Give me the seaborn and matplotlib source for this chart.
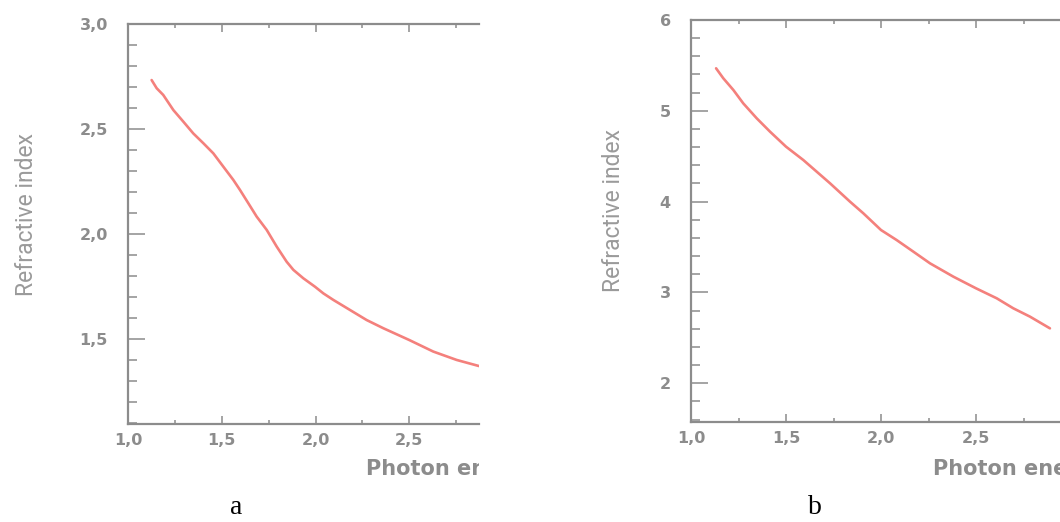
import matplotlib
matplotlib.use("Agg")
from matplotlib import pyplot as plt
from matplotlib.ticker import MultipleLocator, FuncFormatter
from matplotlib.transforms import Bbox, TransformedBbox
import pandas as pd
import seaborn as sns

sns.set_style("ticks")

# panel a: refractive index vs photon energy (eV)
energy_a = [1.126, 1.153, 1.188, 1.242, 1.295, 1.348, 1.402, 1.455, 1.508, 1.562,
            1.597, 1.642, 1.686, 1.740, 1.793, 1.846, 1.882, 1.935, 1.997, 2.042,
            2.095, 2.184, 2.273, 2.362, 2.500, 2.628, 2.753, 2.872]
index_a = [2.733, 2.694, 2.662, 2.590, 2.535, 2.479, 2.432, 2.384, 2.321, 2.257,
           2.210, 2.146, 2.083, 2.019, 1.940, 1.868, 1.829, 1.789, 1.749, 1.717,
           1.686, 1.638, 1.590, 1.551, 1.495, 1.440, 1.400, 1.371]

# panel b
energy_b = [1.132, 1.170, 1.223, 1.275, 1.346, 1.416, 1.500, 1.591, 1.732, 1.837,
            1.907, 2.000, 2.082, 2.170, 2.258, 2.381, 2.500, 2.609, 2.696, 2.784,
            2.889]
index_b = [5.468, 5.358, 5.229, 5.082, 4.917, 4.770, 4.605, 4.458, 4.201, 3.999,
           3.871, 3.687, 3.577, 3.449, 3.320, 3.173, 3.045, 2.935, 2.825, 2.733,
           2.604]

panel_labels = ["a", "b"]
ylabel = "Refractive index"
xlabel = "Photon energy (eV)"

GREY = "#8c8c8c"
LINE = "#f4807c"

W, H = 1060, 522
fig = plt.figure(figsize=(W / 100, H / 100), dpi=100)

ax_a = fig.add_axes([128 / W, 1 - 424 / H, 351 / W, 400 / H])
ax_b = fig.add_axes([691 / W, 1 - 421.7 / H, 369 / W, 401.7 / H])

df_a = pd.DataFrame({"energy": energy_a, "n": index_a})
df_b = pd.DataFrame({"energy": energy_b, "n": index_b})

sns.lineplot(data=df_a, x="energy", y="n", ax=ax_a, color=LINE, linewidth=1.9)
sns.lineplot(data=df_b, x="energy", y="n", ax=ax_b, color=LINE, linewidth=1.9)

comma1 = FuncFormatter(lambda v, p: f"{v:.1f}".replace(".", ","))
comma0 = FuncFormatter(lambda v, p: f"{v:.0f}")

ax_a.set_xlim(1.0, 2.872)
ax_a.set_ylim(1.095, 3.0)
ax_a.yaxis.set_major_locator(MultipleLocator(0.5))
ax_a.yaxis.set_minor_locator(MultipleLocator(0.1))
ax_a.yaxis.set_major_formatter(comma1)

ax_b.set_xlim(1.0, 2.942)
ax_b.set_ylim(1.576, 6.0)
ax_b.yaxis.set_major_locator(MultipleLocator(1))
ax_b.yaxis.set_minor_locator(MultipleLocator(0.2))
ax_b.yaxis.set_major_formatter(comma0)

for ax in (ax_a, ax_b):
    ax.set_xlabel("")
    ax.set_ylabel("")
    ax.xaxis.set_major_locator(MultipleLocator(0.5))
    ax.xaxis.set_minor_locator(MultipleLocator(0.25))
    ax.xaxis.set_major_formatter(comma1)
    ax.spines["right"].set_visible(False)
    for s in ("left", "top", "bottom"):
        ax.spines[s].set_color(GREY)
        ax.spines[s].set_linewidth(1.6)
    ax.tick_params(which="both", direction="in", color=GREY, width=1.1,
                   top=True, bottom=True, left=True, right=False)
    ax.tick_params(axis="x", which="major", length=6, pad=6.5)
    ax.tick_params(axis="x", which="minor", length=3)
    ax.tick_params(axis="y", which="major", length=12, pad=14.5)
    ax.tick_params(axis="y", which="minor", length=6.5)
    for lab in ax.get_xticklabels() + ax.get_yticklabels():
        lab.set_fontfamily("DejaVu Sans")
        lab.set_fontweight("bold")
        lab.set_fontsize(11.5)
        lab.set_color(GREY)

# rotated y labels (condensed look)
for xc, yc in ((27, 214), (613, 210)):
    fig.text(xc / W, 1 - yc / H, ylabel, rotation=90, ha="center", va="center",
             fontsize=16.5, color="#9a9a9a", family=["Roboto", "DejaVu Sans"])

# x labels, cut off at the right border of each cropped panel
for xs, right in ((366, 479), (933, 1060)):
    t = fig.text(xs / W, 1 - 475 / H, xlabel, ha="left", va="baseline",
                 fontsize=15, fontweight="bold", color=GREY, family="DejaVu Sans")
    t.set_clip_box(TransformedBbox(Bbox.from_extents(0, 0, right / W, 1), fig.transFigure))
    t.set_clip_on(True)

# panel captions
for xc, lab in ((236, panel_labels[0]), (815, panel_labels[1])):
    fig.text(xc / W, 1 - 514 / H, lab, ha="center", va="baseline",
             fontsize=20, color="black", family="Liberation Serif")

plt.savefig("out.png", dpi=100)
